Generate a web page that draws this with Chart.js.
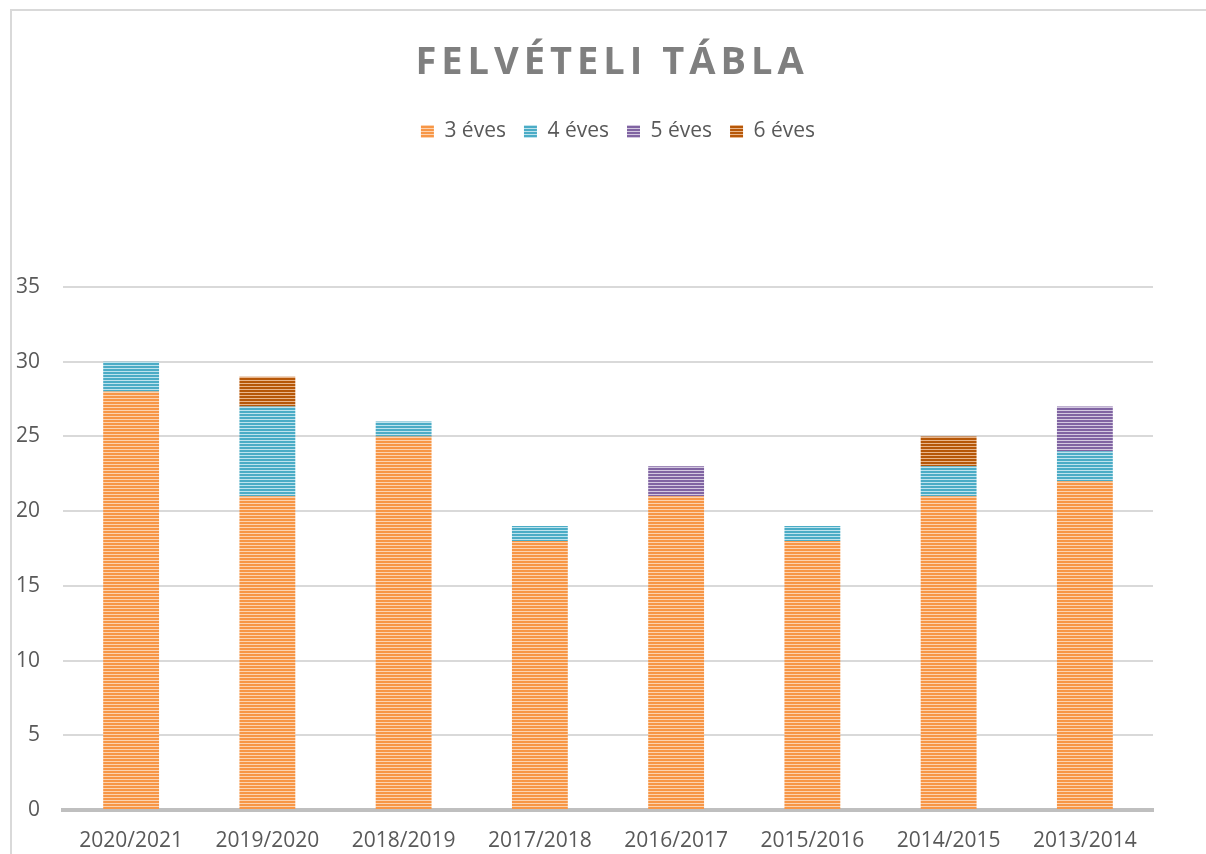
<!DOCTYPE html>
<html lang="hu">
<head>
    <meta charset="UTF-8">
    <title>Felvételi tábla</title>
    <script src="https://cdn.jsdelivr.net/npm/chart.js"></script>
    <style>
        html, body {
            margin: 0;
            padding: 0;
            background: #ffffff;
            overflow: hidden;
        }
        #frame {
            position: absolute;
            left: 10px;
            top: 9px;
            width: 1300px;
            height: 900px;
            border-top: 2px solid #d9d9d9;
            border-left: 2px solid #d9d9d9;
        }
        #title {
            position: absolute;
            left: 312px;
            width: 600px;
            top: 40px;
            margin: 0;
            text-align: center;
            font-family: 'Open Sans', sans-serif;
            font-weight: bold;
            font-size: 38px;
            line-height: 38px;
            letter-spacing: 5px;
            color: #7f7f7f;
        }
        #wrap {
            position: absolute;
            left: 0;
            top: 0;
            width: 1206px;
            height: 854px;
        }
    </style>
</head>
<body>
    <div id="frame"></div>
    <div id="wrap"><canvas id="chart"></canvas></div>
    <h1 id="title">FELVÉTELI TÁBLA</h1>

    <script>
        const categories = ['2020/2021', '2019/2020', '2018/2019', '2017/2018', '2016/2017', '2015/2016', '2014/2015', '2013/2014'];
        const seriesNames = ['3 éves', '4 éves', '5 éves', '6 éves'];
        const ev3 = [28, 21, 25, 18, 21, 18, 21, 22];
        const ev4 = [2, 6, 1, 1, 0, 1, 2, 2];
        const ev5 = [0, 0, 0, 0, 2, 0, 0, 3];
        const ev6 = [0, 2, 0, 0, 0, 0, 2, 0];
        const yTicks = [0, 5, 10, 15, 20, 25, 30, 35];

        Chart.defaults.font.family = "'Open Sans', sans-serif";
        Chart.defaults.color = '#595959';

        const canvas = document.getElementById('chart');
        const ctx = canvas.getContext('2d');

        // horizontal line fill, like the Excel pattern
        function stripes(base, light) {
            const c = document.createElement('canvas');
            c.width = 4;
            c.height = 3;
            const g = c.getContext('2d');
            g.fillStyle = base;
            g.fillRect(0, 0, 4, 3);
            g.fillStyle = light;
            g.fillRect(0, 2, 4, 1);
            return ctx.createPattern(c, 'repeat');
        }

        const fills = [
            stripes('#f79646', '#fcd3b0'),
            stripes('#4bacc6', '#bfe3ed'),
            stripes('#8064a2', '#d3c8e0'),
            stripes('#b65708', '#e9b68c')
        ];

        // leave room under the legend and shift it a bit to the right
        const legendSpacer = {
            id: 'legendSpacer',
            beforeLayout(chart) {
                const lg = chart.legend;
                if (lg && !lg._spaced) {
                    const fit = lg.fit;
                    lg.fit = function () {
                        fit.call(this);
                        this.height = 184;
                    };
                    lg._spaced = true;
                }
            },
            afterLayout(chart) {
                chart.legend.left += 83;
            }
        };

        const values = [ev3, ev4, ev5, ev6];

        new Chart(ctx, {
            type: 'bar',
            data: {
                labels: categories,
                datasets: values.map((v, i) => ({
                    label: seriesNames[i],
                    data: v,
                    backgroundColor: fills[i],
                    borderWidth: 0,
                    barPercentage: 0.41,
                    categoryPercentage: 1
                }))
            },
            options: {
                responsive: true,
                maintainAspectRatio: false,
                animation: false,
                layout: {
                    padding: { top: 103, left: 0, right: 53, bottom: 0 }
                },
                plugins: {
                    legend: {
                        position: 'top',
                        labels: {
                            boxWidth: 13,
                            boxHeight: 13,
                            padding: 18,
                            color: '#595959',
                            font: { size: 21 }
                        }
                    },
                    tooltip: { enabled: false }
                },
                scales: {
                    x: {
                        stacked: true,
                        z: 1,
                        grid: { display: false, drawTicks: false },
                        border: { display: true, color: '#bfbfbf', width: 4 },
                        ticks: {
                            padding: 18,
                            maxRotation: 0,
                            autoSkip: false,
                            color: '#595959',
                            font: { size: 21 }
                        },
                        afterFit(scale) {
                            scale.height = 44;
                        }
                    },
                    y: {
                        stacked: true,
                        min: 0,
                        max: 35,
                        grid: { color: '#d9d9d9', lineWidth: 2, drawTicks: false },
                        border: { display: false },
                        afterBuildTicks(scale) {
                            scale.ticks = yTicks.map(v => ({ value: v }));
                        },
                        ticks: {
                            padding: 23,
                            color: '#595959',
                            font: { size: 21 }
                        },
                        afterFit(scale) {
                            scale.width = 63;
                        }
                    }
                }
            },
            plugins: [legendSpacer]
        });
    </script>
</body>
</html>
